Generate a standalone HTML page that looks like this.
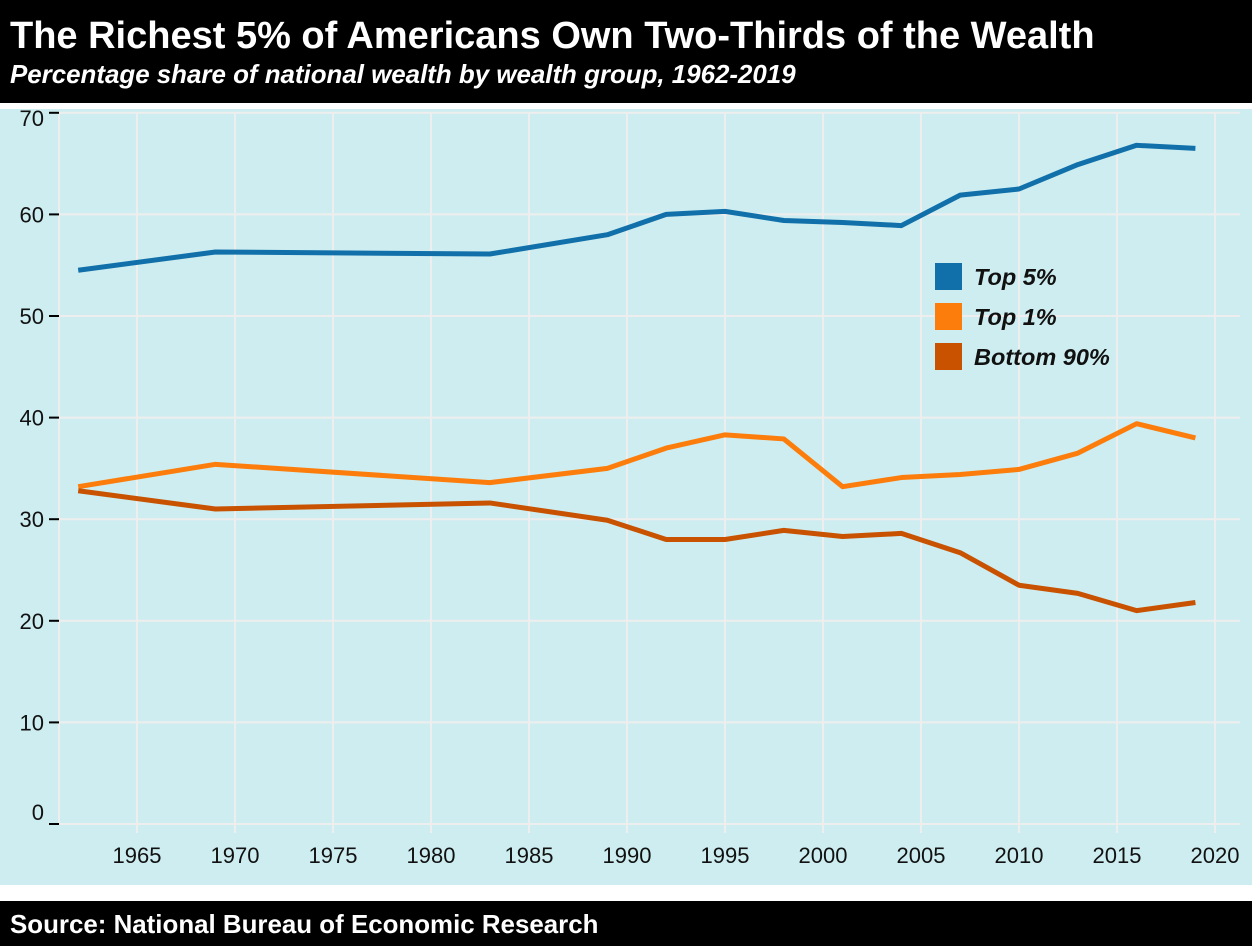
<!DOCTYPE html>
<html><head><meta charset="utf-8"><style>
body{margin:0;width:1252px;height:946px;background:#fff;font-family:"Liberation Sans",Arial,sans-serif;overflow:hidden;position:relative}
#hdr{position:absolute;left:0;top:0;width:1252px;height:103px;background:#000;color:#fff}
#ftr{position:absolute;left:0;top:901px;width:1252px;height:45px;background:#000;color:#fff}
</style></head><body>
<div id="hdr">
<div style="position:absolute;left:10px;top:15px;font-size:38px;font-weight:bold;white-space:nowrap">The Richest 5% of Americans Own Two-Thirds of the Wealth</div>
<div style="position:absolute;left:10px;top:61px;font-size:25.9px;font-weight:bold;font-style:italic;white-space:nowrap">Percentage share of national wealth by wealth group, 1962-2019</div>
</div>
<svg id="chart" style="position:absolute;left:0;top:109px" width="1252" height="776"></svg>
<div id="ftr">
<div style="position:absolute;left:10px;top:10px;font-size:25.9px;font-weight:bold;white-space:nowrap">Source: National Bureau of Economic Research</div>
</div>
<script>
const years=[1962,1969,1983,1989,1992,1995,1998,2001,2004,2007,2010,2013,2016,2019];
const top5=[54.5,56.3,56.1,58.0,60.0,60.3,59.4,59.2,58.9,61.9,62.5,64.9,66.8,66.5];
const top1=[33.2,35.4,33.6,35.0,37.0,38.3,37.9,33.2,34.1,34.4,34.9,36.5,39.4,38.0];
const bottom90=[32.8,31.0,31.6,29.9,28.0,28.0,28.9,28.3,28.6,26.7,23.5,22.7,21.0,21.8];
const yTicks=[0,10,20,30,40,50,60,70];
const xTicks=[1965,1970,1975,1980,1985,1990,1995,2000,2005,2010,2015,2020];
const seriesNames=["Top 5%","Top 1%","Bottom 90%"];
const colors=["#1170aa","#fc7d0b","#c85200"];
const NS="http://www.w3.org/2000/svg";
const svg=document.getElementById('chart');
const OY=109;
const x=v=>137+(v-1965)*19.6;
const y=v=>(824-OY)-v*10.16;
function mk(t,a){const e=document.createElementNS(NS,t);for(const k in a)e.setAttribute(k,a[k]);svg.appendChild(e);return e;}
const bg=mk('rect',{x:0,y:0,width:1252,height:776,fill:'#cdedf0'});


const vl=mk('line',{x1:59,x2:59,y1:y(70),y2:y(0),stroke:'#eee','stroke-width':2});


yTicks.forEach(t=>{
 const g=mk('line',{x1:59,x2:1240,y1:y(t),y2:y(t),stroke:'#eee','stroke-width':2});
 
 
 const tk=mk('line',{x1:49,x2:59,y1:y(t),y2:y(t),stroke:'#000','stroke-width':2});
 
 
 const l=mk('text',{x:44,y:y(t)+(t==0?-4:(t==70?13:8)),'text-anchor':'end','font-size':22,fill:'#111'});
 l.textContent=t;
 
 
});
xTicks.forEach(t=>{
 const g=mk('line',{x1:x(t),x2:x(t),y1:y(70),y2:y(0)+9,stroke:'#eee','stroke-width':2});
 
 
 const l=mk('text',{x:x(t),y:y(0)+39,'text-anchor':'middle','font-size':22,fill:'#111'});
 l.textContent=t;
 
 
});
[top5,top1,bottom90].forEach((s,i)=>{
 const p=mk('polyline',{points:s.map((v,j)=>x(years[j])+','+y(v)).join(' '),fill:'none',stroke:colors[i],'stroke-width':5,'stroke-linejoin':'round'});
 
 
 const r=mk('rect',{x:935,y:154+i*40,width:27,height:27,fill:colors[i]});
 
 
 const t=mk('text',{x:974,y:176+i*40,'font-size':23.5,'font-weight':'bold','font-style':'italic',fill:'#111'});
 t.textContent=seriesNames[i];
 
 
});
</script>
</body></html>
